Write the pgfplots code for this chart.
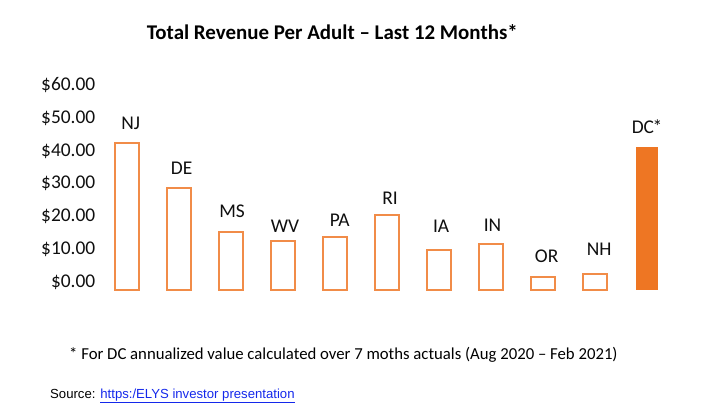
\documentclass[border=0pt]{standalone}
\usepackage{pgfplots}
\pgfplotsset{compat=1.18}
\usepackage{pgfplotstable}
\usepackage{fontspec}
\setmainfont{Carlito}
\newfontfamily\arialfont{Liberation Sans}
\definecolor{barorange}{RGB}{241,140,72}
\definecolor{dcorange}{RGB}{238,118,35}
\definecolor{linkblue}{RGB}{20,40,235}

% x, revenue per adult, label height, label x offset, state
\pgfplotstableread{
x  y     ly    lx    name
0  44.9  50.7  0.07  NJ
1  31.0  37.0  0.05  DE
2  17.8  24.0  0.02  MS
3  14.9  19.5  0.04  WV
4  16.1  21.3  0.09  PA
5  22.9  28.0  0.06  RI
6  12.2  19.4  0.04  IA
7  13.9  19.7  0.03  IN
8   4.1  10.4  0.07  OR
9   4.8  12.4  0.08  NH
}\states
\pgfplotstableread{
x   y     ly    lx    name
10  43.5  49.9  0.00  {DC\kern-1.5pt*}
}\dc

\begin{document}
\begin{tikzpicture}
\path[use as bounding box] (0,0) rectangle (724bp,420bp);
\begin{axis}[
  x=52bp, y=3.28bp,
  at={(127bp,130bp)}, anchor=origin,
  xmin=-0.6, xmax=10.6,
  ymin=0, ymax=62,
  axis line style={draw=none},
  major tick length=0pt,
  every tick/.style={draw=none},
  xtick=\empty,
  ytick={0,10,...,60},
  yticklabel={\$\pgfmathprintnumber[fixed,fixed zerofill,precision=2]{\tick}},
  /pgf/number format/assume math mode=true,
  yticklabel style={font=\fontsize{19.5}{20}\selectfont\color[RGB]{15,15,15}, anchor=east, inner sep=0pt, xshift=-0.3bp, yshift=8bp},
  clip=false,
]
\addplot[ybar, bar width=24bp, bar shift=0pt, draw=barorange, line width=2bp, fill=white]
  table[x=x, y=y] {\states};
\addplot[ybar, bar width=22bp, bar shift=0pt, draw=none, fill=dcorange]
  table[x=x, y=y] {\dc};
\addplot[only marks, mark=none, nodes near coords, point meta=explicit symbolic,
  every node near coord/.style={font=\fontsize{19.5}{20}\selectfont\color[RGB]{15,15,15}, anchor=center, inner sep=0pt}]
  table[x expr=\thisrow{x}+\thisrow{lx}, y=ly, meta=name] {\states};
\addplot[only marks, mark=none, nodes near coords, point meta=explicit symbolic,
  every node near coord/.style={font=\fontsize{19.5}{20}\selectfont\color[RGB]{15,15,15}, anchor=center, inner sep=0pt}]
  table[x expr=\thisrow{x}+\thisrow{lx}, y=ly, meta=name] {\dc};
\end{axis}
\node[anchor=base west, inner sep=0pt, font=\bfseries\fontsize{21}{22}\selectfont] at (146.7bp,380bp)
  {Total Revenue Per Adult -- Last 12 Months*};
\node[anchor=base west, inner sep=0pt, font=\fontsize{16.8}{17}\selectfont] at (69bp,60bp)
  {* For DC annualized value calculated over 7 moths actuals (Aug 2020 -- Feb 2021)};
\node[anchor=base west, inner sep=0pt, font=\arialfont\fontsize{13.2}{14}\selectfont] at (50bp,22bp)
  {Source: \textcolor{linkblue}{\underline{https:/ELYS investor presentation}}};
\end{tikzpicture}
\end{document}
